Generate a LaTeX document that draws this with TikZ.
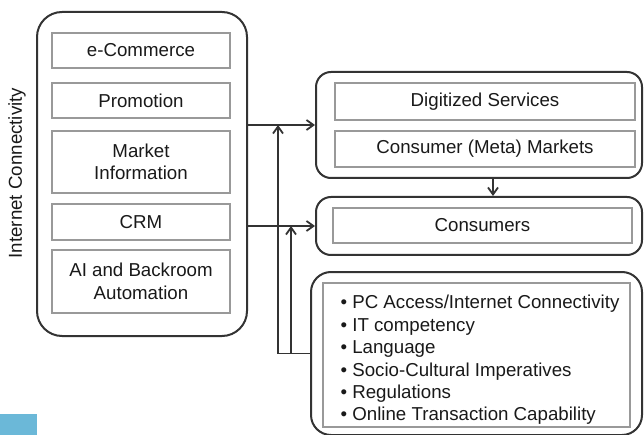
\documentclass[tikz,border=0pt]{standalone}
\usepackage{fontspec}
\setmainfont{Liberation Sans}
\usetikzlibrary{arrows.meta, positioning, calc}
\definecolor{boxgray}{rgb}{0.6,0.6,0.6}
\definecolor{lineblack}{rgb}{0.2,0.2,0.2}
\definecolor{tabblue}{RGB}{107,184,216}

\tikzset{
  outer/.style={draw=lineblack, line width=2pt, rounded corners=#1},
  inner/.style={draw=boxgray, line width=1.5pt, align=center, inner sep=0pt},
  link/.style={draw=lineblack, line width=1.8pt, -{Straight Barb[length=7pt,width=10pt]}}
}

\begin{document}
\begin{tikzpicture}[x=1pt, y=-1pt, font=\fontsize{18.7}{22.4}\selectfont, text=black!90]
  \useasboundingbox (0,0) rectangle (644,435);
  \fill[tabblue] (0,414) rectangle (37,435);

  % left column: the online tools
  \node[rotate=90] (conn) at (17,173) {Internet Connectivity};
  \node[outer=25pt, minimum width=210pt, minimum height=324pt] (tools) at (142,174) {};
  \foreach \n/\y/\h/\m in {
      ecom/50.5/35/e-Commerce,
      promo/100.5/35/Promotion,
      market/162/62/{Market\\Information},
      crm/222/36/CRM,
      ai/281.5/63/{AI and Backroom\\Automation}}
      \node[inner, minimum width=178pt, minimum height=\h pt] (\n) at (141,\y) {\m};

  % right column
  \node[outer=15pt, minimum width=326pt, minimum height=106pt] (digital) at (479,125) {};
  \node[inner, minimum width=300pt, minimum height=37pt] (services) at (485,101.5) {Digitized Services};
  \node[inner, minimum width=300pt, minimum height=36pt] (meta) at (485,149) {Consumer (Meta) Markets};

  \node[outer=15pt, minimum width=326pt, minimum height=58pt] (consumers) at (479,226) {};
  \node[inner, minimum width=299pt, minimum height=35pt] (cons) at (482.5,225.5) {Consumers};

  \node[outer=20pt, minimum width=331pt, minimum height=163pt] (needs) at (476.5,353.5) {};
  \node[inner, minimum width=307pt, minimum height=144pt] (factors) at (476.5,355) {};
  \node[align=left] (factorlist) at (480,360) {%
      \textbullet{} PC Access/Internet Connectivity\\
      \textbullet{} IT competency\\
      \textbullet{} Language\\
      \textbullet{} Socio-Cultural Imperatives\\
      \textbullet{} Regulations\\
      \textbullet{} Online Transaction Capability};

  % connectors
  \coordinate (feedA) at (278,0);
  \coordinate (feedB) at (291,0);
  \draw[link] (tools.east |- digital.west) -- (digital.west);
  \draw[link] (tools.east |- consumers.west) -- (consumers.west);
  \draw[link] (needs.west) -| (feedA |- digital.west);
  \draw[link] (needs.west -| feedB) -- (feedB |- consumers.west);
  \draw[link] ([xshift=14pt]digital.south) -- ([xshift=14pt]consumers.north);
\end{tikzpicture}
\end{document}
